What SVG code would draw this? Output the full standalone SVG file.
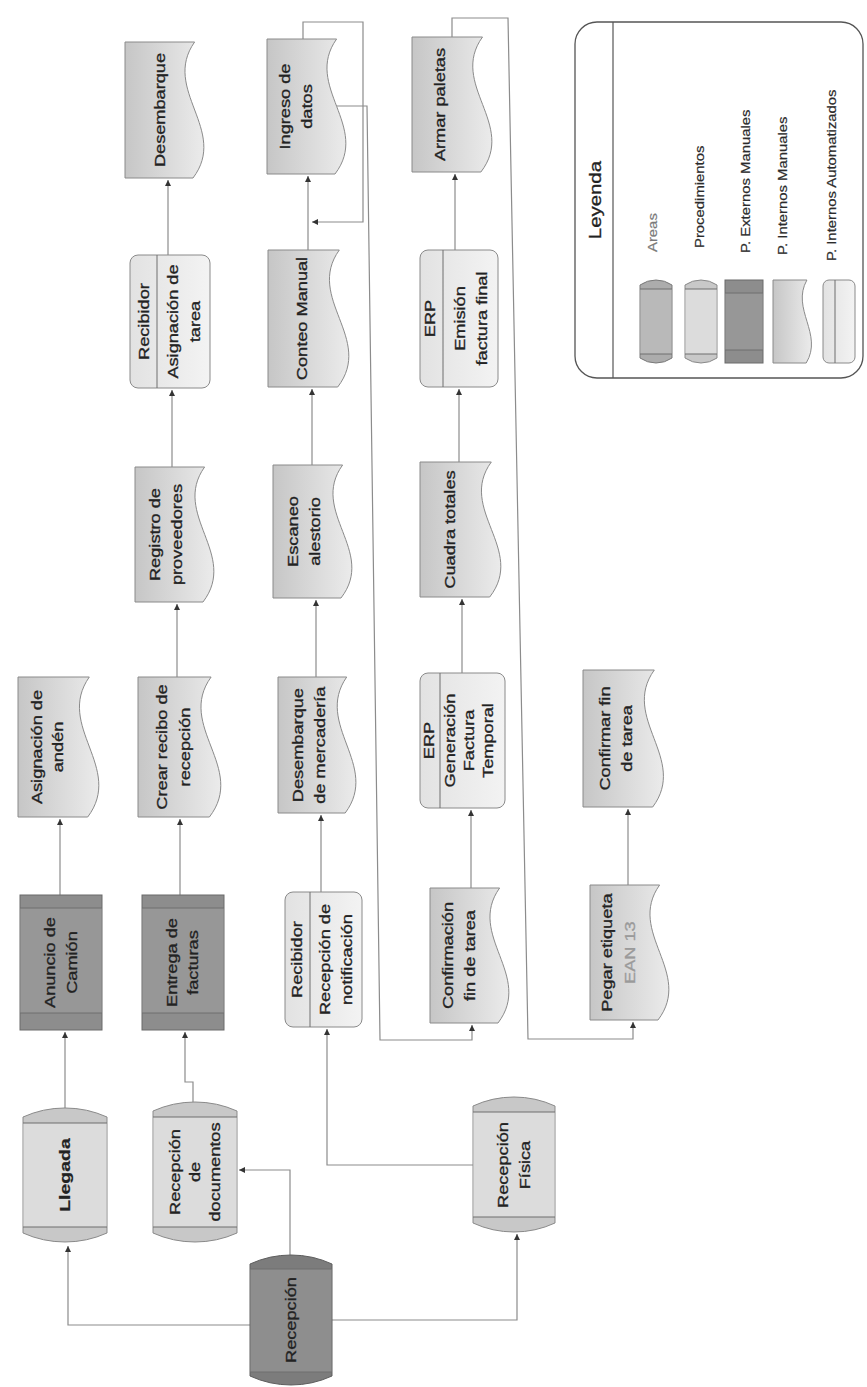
<svg xmlns="http://www.w3.org/2000/svg" width="867" height="1387" viewBox="0 0 867 1387">
  <style>
    .doc { fill: url(#gDoc); stroke: #8a8a8a; stroke-width: 1; }
    .auto { fill: url(#gAuto); stroke: #8a8a8a; stroke-width: 1; }
    .ext { fill: #8d8d8d; stroke: #6a6a6a; stroke-width: 1; }
    .extband { fill: #979797; }
    .cyl-cap { fill: #c8c8c8; stroke: #8a8a8a; stroke-width: 1; }
    .cyl-body { fill: #dcdcdc; }
    .area-cap { fill: #7c7c7c; stroke: #5e5e5e; stroke-width: 1; }
    .area-body { fill: #8e8e8e; }
    .div { stroke: #6e6e6e; stroke-width: 1; fill: none; }
    .t { font-family: "Liberation Sans", Arial, sans-serif; font-size: 14px; fill: #222; stroke: #222; stroke-width: 0.3px;
         text-anchor: middle; transform-box: fill-box; transform-origin: center; transform: scaleX(1.3); }
    .b { font-weight: bold; stroke-width: 0.2px; }
    .lt { font-family: "Liberation Sans", Arial, sans-serif; font-size: 12px; fill: #2b2b2b; stroke: #2b2b2b; stroke-width: 0.2px;
          text-anchor: start; transform-box: fill-box; transform-origin: left center; transform: scaleX(1.24); }
    .title { font-family: "Liberation Sans", Arial, sans-serif; font-size: 17px; fill: #222; stroke: #222; stroke-width: 0.3px;
             text-anchor: middle; transform-box: fill-box; transform-origin: center; transform: scaleX(1.2); }
    .conn { fill: none; stroke: #8c8c8c; stroke-width: 1.2; marker-end: url(#arr); }
  </style>
  <defs>
    <linearGradient id="gDoc" x1="0" y1="0" x2="0" y2="1">
      <stop offset="0" stop-color="#c6c6c6"/>
      <stop offset="1" stop-color="#ebebeb"/>
    </linearGradient>
    <linearGradient id="gAuto" x1="0" y1="0" x2="0" y2="1">
      <stop offset="0" stop-color="#e2e2e2"/>
      <stop offset="1" stop-color="#f3f3f3"/>
    </linearGradient>
    <marker id="arr" viewBox="0 0 10 10" refX="10" refY="5" markerWidth="6" markerHeight="6" markerUnits="userSpaceOnUse" orient="auto">
      <path d="M0 0 L10 5 L0 10 Z" fill="#333"/>
    </marker>
  </defs>

  <rect width="867" height="1387" fill="#ffffff"/>

  <!-- connectors, drawn in page coordinates -->
  <g id="connectors">
    <path class="conn" d="M250 1325 H68 V1246"/>
    <path class="conn" d="M332 1320 H517 V1234"/>
    <path class="conn" d="M290 1255 V1170 H239"/>
    <path class="conn" d="M65 1108 V1032"/>
    <path class="conn" d="M193 1102 V1082 H185 V1032"/>
    <path class="conn" d="M473 1165 H327 V1029"/>
    <path class="conn" d="M60 895 V819"/>
    <path class="conn" d="M180 895 V819"/>
    <path class="conn" d="M321 892 V815"/>
    <path class="conn" d="M177 677 V604"/>
    <path class="conn" d="M172 467 V390"/>
    <path class="conn" d="M168 255 V180"/>
    <path class="conn" d="M316 677 V600"/>
    <path class="conn" d="M312 465 V389"/>
    <path class="conn" d="M308 250 V176"/>
    <path class="conn" d="M303 39 V22 H363 V222 H312"/>
    <path class="conn" d="M336 106 H367 L380 1040 H472 V1025"/>
    <path class="conn" d="M452 37 V18 H508 L528 1039 H633 V1022"/>
    <path class="conn" d="M471 888 V810"/>
    <path class="conn" d="M462 673 V599"/>
    <path class="conn" d="M459 462 V389"/>
    <path class="conn" d="M455 250 V174"/>
    <path class="conn" d="M628 885 V809"/>
  </g>

  <!-- the chart is laid out sideways: local x runs up the page, local y runs across it -->
  <g id="chart" transform="translate(0 1387) rotate(-90)">

    <g id="n-llegada">
      <path class="cyl-cap" d="M154 23 H270 A102.5 102.5 0 0 1 270 107 H154 A102.5 102.5 0 0 1 154 23 Z"/>
      <rect class="cyl-body" x="160" y="23.5" width="104" height="83"/>
      <path class="div" d="M160 23 V107 M264 23 V107"/>
      <text class="t b" x="212" y="70" style="font-size:15px">Llegada</text>
    </g>

    <g id="n-recepcion-documentos">
      <path class="cyl-cap" d="M154 153 H276 A102.5 102.5 0 0 1 276 237 H154 A102.5 102.5 0 0 1 154 153 Z"/>
      <rect class="cyl-body" x="160" y="153.5" width="110" height="83"/>
      <path class="div" d="M160 153 V237 M270 153 V237"/>
      <text class="t"><tspan x="215" y="180">Recepción</tspan><tspan x="215" y="200">de</tspan><tspan x="215" y="220">documentos</tspan></text>
    </g>

    <g id="n-recepcion">
      <path class="area-cap" d="M11 250 H123 A97.9 97.9 0 0 1 123 332 H11 A97.9 97.9 0 0 1 11 250 Z"/>
      <rect class="area-body" x="15" y="250.5" width="103" height="81"/>
      <path class="div" d="M15 250 V332 M118 250 V332"/>
      <text class="t" x="67" y="296">Recepción</text>
    </g>

    <g id="n-recepcion-fisica">
      <path class="cyl-cap" d="M164 473 H281 A97.9 97.9 0 0 1 281 555 H164 A97.9 97.9 0 0 1 164 473 Z"/>
      <rect class="cyl-body" x="170" y="473.5" width="105" height="81"/>
      <path class="div" d="M170 473 V555 M275 473 V555"/>
      <text class="t"><tspan x="222" y="508">Recepción</tspan><tspan x="222" y="530">Física</tspan></text>
    </g>

    <g id="n-anuncio-camion">
      <rect class="ext" x="357" y="20" width="135" height="82"/>
      <rect class="extband" x="374" y="20.5" width="105" height="81"/>
      <path class="div" d="M374 20 V102 M479 20 V102"/>
      <text class="t"><tspan x="424.5" y="55">Anuncio de</tspan><tspan x="424.5" y="77">Camión</tspan></text>
    </g>

    <g id="n-entrega-facturas">
      <rect class="ext" x="357" y="142" width="135" height="82"/>
      <rect class="extband" x="374" y="142.5" width="105" height="81"/>
      <path class="div" d="M374 142 V224 M479 142 V224"/>
      <text class="t"><tspan x="424.5" y="177">Entrega de</tspan><tspan x="424.5" y="198">facturas</tspan></text>
    </g>

    <g id="n-recepcion-notificacion">
      <rect class="auto" x="360" y="285" width="135" height="77" rx="8"/>
      <path class="div" d="M360 310 H495"/>
      <text class="t" x="427.5" y="302">Recibidor</text>
      <text class="t"><tspan x="427.5" y="330">Recepción de</tspan><tspan x="427.5" y="352">notificación</tspan></text>
    </g>

    <g id="n-asignacion-tarea">
      <rect class="auto" x="999" y="130" width="133" height="80" rx="8"/>
      <path class="div" d="M999 157 H1132"/>
      <text class="t" x="1065.5" y="149">Recibidor</text>
      <text class="t"><tspan x="1065.5" y="178">Asignación de</tspan><tspan x="1065.5" y="200">tarea</tspan></text>
    </g>

    <g id="n-generacion-factura">
      <rect class="auto" x="579" y="420" width="135" height="85" rx="8"/>
      <path class="div" d="M579 440 H714"/>
      <text class="t" x="646.5" y="434">ERP</text>
      <text class="t"><tspan x="646.5" y="455">Generación</tspan><tspan x="646.5" y="474">Factura</tspan><tspan x="646.5" y="493">Temporal</tspan></text>
    </g>

    <g id="n-emision-factura">
      <rect class="auto" x="1000" y="420" width="137" height="78" rx="8"/>
      <path class="div" d="M1000 443 H1137"/>
      <text class="t" x="1068.5" y="435">ERP</text>
      <text class="t"><tspan x="1068.5" y="465">Emisión</tspan><tspan x="1068.5" y="487">factura final</tspan></text>
    </g>

    <g id="n-asignacion-anden">
      <path class="doc" d="M570 18 H710 V89.3 C661 54.9 619 124.6 570 87.7 Z"/>
      <text class="t"><tspan x="640" y="42">Asignación de</tspan><tspan x="640" y="63">andén</tspan></text>
    </g>

    <g id="n-crear-recibo">
      <path class="doc" d="M570 138 H710 V211.1 C661 175.8 619 247.2 570 209.4 Z"/>
      <text class="t"><tspan x="640" y="167">Crear recibo de</tspan><tspan x="640" y="190">recepción</tspan></text>
    </g>

    <g id="n-desembarque-mercaderia">
      <path class="doc" d="M574 278 H710 V346.7 C662.4 313.6 621.6 380.7 574 345.2 Z"/>
      <text class="t"><tspan x="642" y="303">Desembarque</tspan><tspan x="642" y="325">de mercadería</tspan></text>
    </g>

    <g id="n-registro-proveedores">
      <path class="doc" d="M785 135 H920 V204.6 C872.8 171 832.3 239 785 203 Z"/>
      <text class="t"><tspan x="852.5" y="160">Registro de</tspan><tspan x="852.5" y="182">proveedores</tspan></text>
    </g>

    <g id="n-escaneo">
      <path class="doc" d="M789 273 H922 V342.6 C875.5 309 835.6 377 789 341 Z"/>
      <text class="t"><tspan x="855.5" y="298">Escaneo</tspan><tspan x="855.5" y="320">alestorio</tspan></text>
    </g>

    <g id="n-cuadra-totales">
      <path class="doc" d="M790 420 H925 V491.3 C877.8 456.9 837.3 526.6 790 489.7 Z"/>
      <text class="t" x="857.5" y="455">Cuadra totales</text>
    </g>

    <g id="n-desembarque">
      <path class="doc" d="M1209 125 H1345 V194.6 C1297.4 161 1256.6 229 1209 193 Z"/>
      <text class="t" x="1277" y="165">Desembarque</text>
    </g>

    <g id="n-conteo-manual">
      <path class="doc" d="M1000 268 H1137 V339.3 C1089 304.9 1048 374.6 1000 337.7 Z"/>
      <text class="t" x="1068.5" y="307">Conteo Manual</text>
    </g>

    <g id="n-ingreso-datos">
      <path class="doc" d="M1213 267 H1348 V336.6 C1300.8 303 1260.3 371 1213 335 Z"/>
      <text class="t"><tspan x="1280.5" y="290">Ingreso de</tspan><tspan x="1280.5" y="312">datos</tspan></text>
    </g>

    <g id="n-armar-paletas">
      <path class="doc" d="M1215 412 H1350 V482.5 C1302.8 448.5 1262.3 517.3 1215 480.9 Z"/>
      <text class="t" x="1282.5" y="445">Armar paletas</text>
    </g>

    <g id="n-confirmacion-fin">
      <path class="doc" d="M364 430 H499 V499.6 C451.8 466 411.3 534 364 498 Z"/>
      <text class="t"><tspan x="431.5" y="453">Confirmación</tspan><tspan x="431.5" y="475">fin de tarea</tspan></text>
    </g>

    <g id="n-pegar-etiqueta">
      <path class="doc" d="M367 590 H502 V659.6 C454.8 626 414.3 694 367 658 Z"/>
      <text class="t"><tspan x="434.5" y="612">Pegar etiqueta</tspan><tspan x="434.5" y="635" style="fill:#9a9a9a;stroke:#9a9a9a">EAN 13</tspan></text>
    </g>

    <g id="n-confirmar-fin">
      <path class="doc" d="M580 583 H717 V654.3 C669 619.9 628 688.6 580 652.7 Z"/>
      <text class="t"><tspan x="648.5" y="610">Confirmar fin</tspan><tspan x="648.5" y="632">de tarea</tspan></text>
    </g>

    <g id="legend">
      <rect x="1009" y="575" width="356" height="288" rx="22" fill="#ffffff" stroke="#555" stroke-width="1.3"/>
      <path d="M1009 613 H1365" stroke="#555" stroke-width="1.2"/>
      <text class="title" x="1187" y="601">Leyenda</text>

      <path d="M1029 640 H1102 A28.1 28.1 0 0 1 1102 672 H1029 A28.1 28.1 0 0 1 1029 640 Z" fill="#acacac" stroke="#7a7a7a"/>
      <rect x="1033" y="640.5" width="65" height="31" fill="#b9b9b9"/>
      <path class="div" d="M1033 640 V672 M1098 640 V672"/>
      <text class="lt" x="1135" y="657" style="fill:#7a7a7a;stroke:#7a7a7a">Areas</text>

      <path class="cyl-cap" d="M1029 685 H1102 A28.1 28.1 0 0 1 1102 717 H1029 A28.1 28.1 0 0 1 1029 685 Z"/>
      <rect class="cyl-body" x="1033" y="685.5" width="65" height="31"/>
      <path class="div" d="M1033 685 V717 M1098 685 V717"/>
      <text class="lt" x="1139" y="704">Procedimientos</text>

      <rect class="ext" x="1024" y="725" width="83" height="38"/>
      <rect class="extband" x="1037" y="725.5" width="57" height="37"/>
      <path class="div" d="M1037 725 V763 M1094 725 V763"/>
      <text class="lt" x="1134" y="750">P. Externos Manuales</text>

      <path class="doc" d="M1024 773 H1107 V806.9 C1078 790.6 1053 823.7 1024 806.2 Z"/>
      <text class="lt" x="1132" y="787">P. Internos Manuales</text>

      <rect class="auto" x="1024" y="823" width="83" height="32" rx="6"/>
      <path class="div" d="M1024 835 H1107"/>
      <text class="lt" x="1126" y="836">P. Internos Automatizados</text>
    </g>
  </g>
</svg>
